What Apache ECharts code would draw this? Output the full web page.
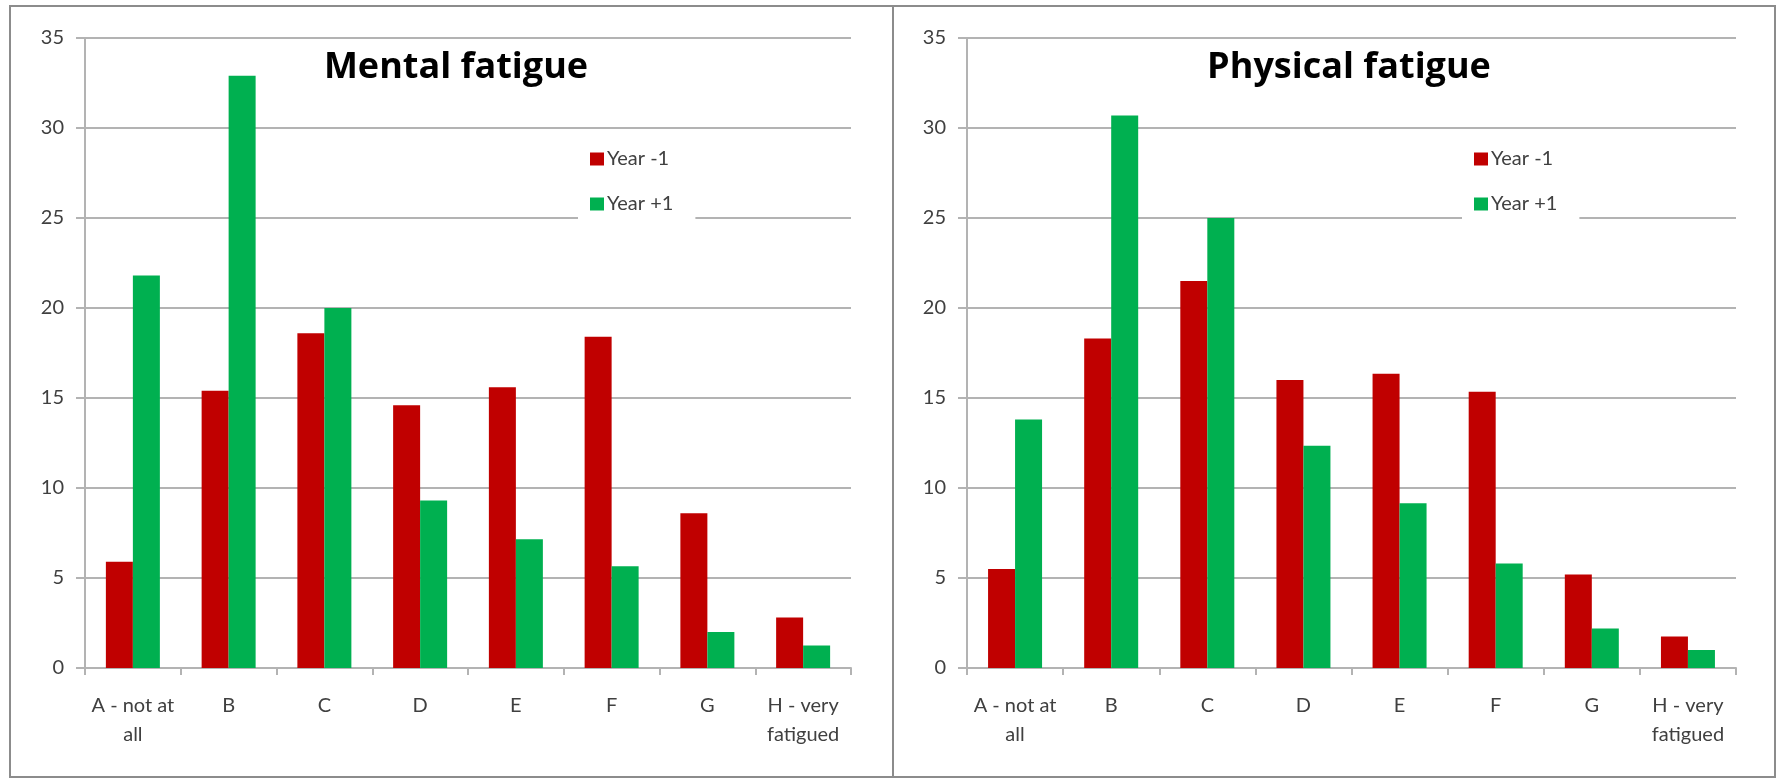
<!DOCTYPE html>
<html>
<head>
<meta charset="utf-8">
<script src="https://cdn.jsdelivr.net/npm/echarts@6/dist/echarts.min.js"></script>
<style>
  html, body { margin: 0; padding: 0; background: #ffffff; }
  #chart { width: 1782px; height: 780px; }
</style>
</head>
<body>
<div id="chart"></div>
<script>
// Fatigue rating categories (x axis)
const categories = ['A - not at\nall', 'B', 'C', 'D', 'E', 'F', 'G', 'H - very\nfatigued'];

// Series names
const seriesNames = ['Year -1', 'Year +1'];

// Mental fatigue values
const mentalYearMinus1 = [5.9, 15.4, 18.6, 14.6, 15.6, 18.4, 8.6, 2.8];
const mentalYearPlus1  = [21.8, 32.9, 20.0, 9.3, 7.15, 5.65, 2.0, 1.25];

// Physical fatigue values
const physicalYearMinus1 = [5.5, 18.3, 21.5, 16.0, 16.35, 15.35, 5.2, 1.75];
const physicalYearPlus1  = [13.8, 30.7, 25.0, 12.35, 9.15, 5.8, 2.2, 1.0];

// Value axis ticks
const yMin = 0;
const yMax = 35;
const yStep = 5;

// Panel titles
const panelTitles = ['Mental fatigue', 'Physical fatigue'];

const RED = '#C00000';
const GREEN = '#00B050';
const GRID_GRAY = '#B3B3B3';
const LABEL_COLOR = '#404040';
const FONT = 'Lato, "Open Sans", sans-serif';
const TITLE_FONT = '"Open Sans", Lato, sans-serif';

const chart = echarts.init(document.getElementById('chart'), null, { renderer: 'canvas' });

function xAxisFor(gridIndex) {
  return {
    type: 'category',
    gridIndex: gridIndex,
    data: categories,
    boundaryGap: true,
    axisLine: { show: true, lineStyle: { color: GRID_GRAY, width: 2 } },
    axisTick: { show: true, length: 7, lineStyle: { color: GRID_GRAY, width: 2 } },
    axisLabel: {
      color: LABEL_COLOR, fontFamily: FONT, fontSize: 20,
      lineHeight: 29, margin: 23, interval: 0
    },
    splitLine: { show: false }
  };
}

function yAxisFor(gridIndex) {
  return {
    type: 'value',
    gridIndex: gridIndex,
    min: yMin, max: yMax, interval: yStep,
    axisLine: { show: true, lineStyle: { color: GRID_GRAY, width: 2 } },
    axisTick: { show: true, length: 9, lineStyle: { color: GRID_GRAY, width: 2 } },
    axisLabel: { color: LABEL_COLOR, fontFamily: FONT, fontSize: 20, margin: 21 },
    splitLine: { show: true, lineStyle: { color: GRID_GRAY, width: 2 } }
  };
}

function barSeries(name, data, color, axisIndex) {
  return {
    name: name,
    type: 'bar',
    xAxisIndex: axisIndex,
    yAxisIndex: axisIndex,
    data: data,
    barWidth: 27,
    barGap: '0%',
    itemStyle: { color: color },
    emphasis: { disabled: true },
    animation: false
  };
}

function legendAt(left) {
  return {
    orient: 'vertical',
    left: left,
    top: 137,
    padding: [12, 22, 8, 12],
    backgroundColor: '#ffffff',
    itemWidth: 14,
    itemHeight: 13,
    itemGap: 25,
    icon: 'rect',
    data: seriesNames,
    textStyle: { color: LABEL_COLOR, fontFamily: FONT, fontSize: 20, padding: [0, 0, 0, -2] },
    selectedMode: false,
    z: 10
  };
}

const option = {
  backgroundColor: '#ffffff',
  animation: false,
  title: [
    {
      text: panelTitles[0], left: 451, top: 45, textAlign: 'center',
      textStyle: { color: '#000000', fontFamily: TITLE_FONT, fontWeight: 'bold', fontSize: 36 }
    },
    {
      text: panelTitles[1], left: 1344, top: 45, textAlign: 'center',
      textStyle: { color: '#000000', fontFamily: TITLE_FONT, fontWeight: 'bold', fontSize: 36 }
    }
  ],
  legend: [legendAt(578), legendAt(1462)],
  grid: [
    { left: 85, top: 38, width: 766, height: 630, containLabel: false },
    { left: 967, top: 38, width: 769, height: 630, containLabel: false }
  ],
  xAxis: [xAxisFor(0), xAxisFor(1)],
  yAxis: [yAxisFor(0), yAxisFor(1)],
  series: [
    barSeries(seriesNames[0], mentalYearMinus1, RED, 0),
    barSeries(seriesNames[1], mentalYearPlus1, GREEN, 0),
    barSeries(seriesNames[0], physicalYearMinus1, RED, 1),
    barSeries(seriesNames[1], physicalYearPlus1, GREEN, 1)
  ],
  graphic: [
    // outer frame around both panels
    {
      type: 'rect', silent: true, z: 100,
      shape: { x: 10, y: 6, width: 1765, height: 771 },
      style: { fill: 'none', stroke: '#8C8C8C', lineWidth: 2 }
    },
    // divider between panels
    {
      type: 'line', silent: true, z: 100,
      shape: { x1: 893, y1: 6, x2: 893, y2: 777 },
      style: { stroke: '#8C8C8C', lineWidth: 2 }
    }
  ]
};

chart.setOption(option);
</script>
</body>
</html>
